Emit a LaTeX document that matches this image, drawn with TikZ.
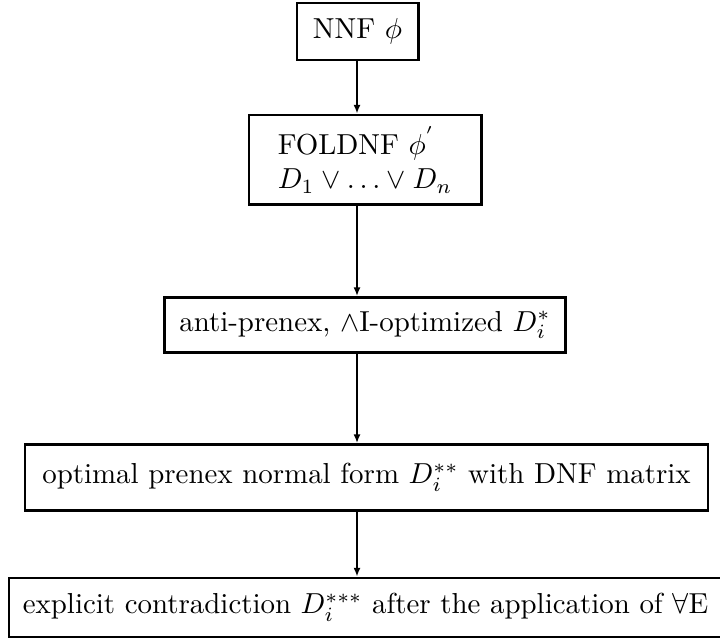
\documentclass[tikz,border=0pt]{standalone}
\usetikzlibrary{arrows.meta}
\begin{document}
\begin{tikzpicture}[x=0.346pt,y=-0.346pt,
  box/.style={draw,line width=1pt,inner sep=0pt,align=center},
  arr/.style={line width=0.7pt,-{Latex[length=3pt,width=2.4pt]}}]
\useasboundingbox (0,0) rectangle (720,639);
\node[box,minimum width=41.9pt,minimum height=19.7pt] (b1) at (357.5,31.5) {NNF $\phi$};
\node[box,align=left,minimum width=80.3pt,minimum height=31.1pt] (b2) at (365,160)
  {FOLDNF $\phi^{'}$\\ $D_1\vee\ldots\vee D_n$};
\node[box,inner xsep=5.2pt,minimum height=19pt] (b3) at (365,325)
  {anti-prenex, $\wedge$I-optimized $D_i^{*}$};
\node[box,minimum width=236.3pt,minimum height=22.8pt] (b4) at (366.5,477.5)
  {optimal prenex normal form $D_i^{**}$ with DNF matrix};
\node[box,minimum width=246.7pt,minimum height=20.4pt] (b5) at (365.5,607.5)
  {explicit contradiction $D_i^{***}$ after the application of $\forall$E};
\coordinate (ax) at (357,0);
\draw[arr] (b1.south -| ax) -- (b2.north -| ax);
\draw[arr] (b2.south -| ax) -- (b3.north -| ax);
\draw[arr] (b3.south -| ax) -- (b4.north -| ax);
\draw[arr] (b4.south -| ax) -- (b5.north -| ax);
\end{tikzpicture}
\end{document}
